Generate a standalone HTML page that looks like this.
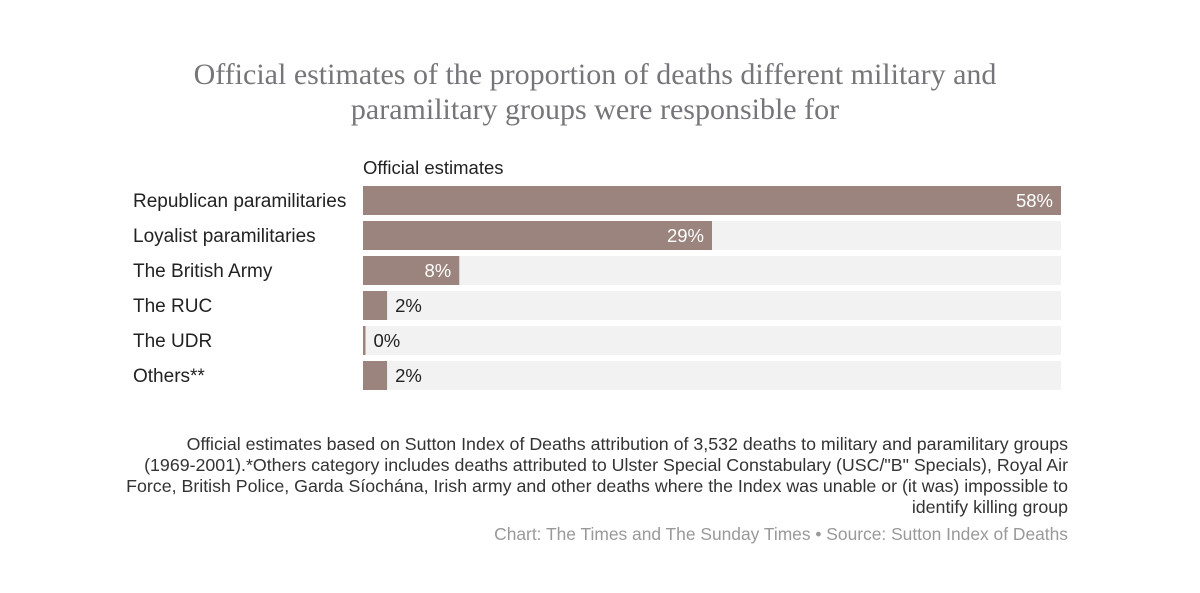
<!DOCTYPE html>
<html><head><meta charset="utf-8"><style>
body{margin:0;background:#fff;width:1200px;height:593px;overflow:hidden;font-family:"Liberation Sans",sans-serif;position:relative}
.t{position:absolute;left:0;width:1190px;text-align:center;font-family:"Liberation Serif",serif;font-size:30px;color:#76767a;line-height:35px;top:57px}
.lab{position:absolute;left:133px;font-size:18.5px;color:#222}
.note{position:absolute;right:132px;width:1000px;text-align:right;font-size:17.8px;color:#333;line-height:21px;top:434px;white-space:nowrap}
.src{position:absolute;right:132px;top:524px;font-size:17.4px;color:#999}
</style></head><body>
<div class="t">Official estimates of the proportion of deaths different military and<br>paramilitary groups were responsible for</div>
<div class="lab" style="top:157px;left:363px">Official estimates</div>
<svg id="c" width="1200" height="593" style="position:absolute;left:0;top:0"></svg>
<div class="note">Official estimates based on Sutton Index of Deaths attribution of 3,532 deaths to military and paramilitary groups<br>(1969-2001).*Others category includes deaths attributed to Ulster Special Constabulary (USC/"B" Specials), Royal Air<br>Force, British Police, Garda Síochána, Irish army and other deaths where the Index was unable or (it was) impossible to<br>identify killing group</div>
<div class="src">Chart: The Times and The Sunday Times • Source: Sutton Index of Deaths</div>
<script>
const categories=["Republican paramilitaries","Loyalist paramilitaries","The British Army","The RUC","The UDR","Others**"];
const values=[58,29,8,2,0,2];
const labels=["58%","29%","8%","2%","0%","2%"];
const NS="http://www.w3.org/2000/svg";
const svg=document.getElementById('c');
const x0=363,tw=698,maxV=Math.max(...values);
const x=v=>v/maxV*tw;
const y=i=>186+i*35;
function mk(t,a){const e=document.createElementNS(NS,t);for(const k in a)e.setAttribute(k,a[k]);svg.appendChild(e);return e;}
categories.forEach((c,i)=>{
 const tr=mk('rect',{x:x0,y:y(i),width:tw,height:29,fill:'#f2f2f2'});
 
 
 const w=Math.max(x(values[i]),2.5);
 const b=mk('rect',{x:x0,y:y(i),width:w,height:29,fill:'#9a847d'});
 
 
 const l=mk('text',{x:133,y:y(i)+21,'font-size':19,fill:'#222','font-family':'Liberation Sans, sans-serif'});
 l.textContent=c;
 
 
 const inside=w>60;
 const v=mk('text',{x:inside?x0+w-8:x0+w+8,y:y(i)+21,'font-size':18.5,fill:inside?'#fff':'#222','text-anchor':inside?'end':'start','font-family':'Liberation Sans, sans-serif'});
 v.textContent=labels[i];
 
 
});
</script>
</body></html>
